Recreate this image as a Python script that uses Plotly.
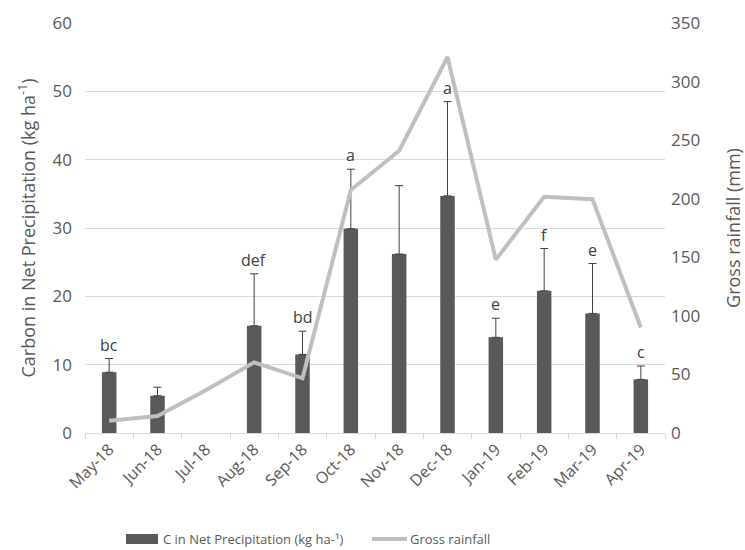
import plotly.graph_objects as go

months = ["May-18", "Jun-18", "Jul-18", "Aug-18", "Sep-18", "Oct-18",
          "Nov-18", "Dec-18", "Jan-19", "Feb-19", "Mar-19", "Apr-19"]
carbon = [8.9, 5.45, None, 15.7, 11.5, 29.9, 26.2, 34.7, 14.0, 20.8, 17.5, 7.85]
carbon_err = [2.0, 1.25, None, 7.6, 3.4, 8.7, 10.0, 13.8, 2.8, 6.2, 7.3, 1.95]
letters = ["bc", "", "", "def", "bd", "a", "", "a", "e", "f", "e", "c"]
rainfall = [10.5, 14.5, 36.5, 60.3, 46.7, 207.4, 241, 321, 148, 201.7, 199.5, 90]

bar_name = "C in Net Precipitation (kg ha-¹)"
line_name = "Gross rainfall"

FONT = "Open Sans"
TXT = "#595959"
BAR = "#595959"
LINE = "#bfbfbf"

fig = go.Figure()
fig.add_trace(go.Bar(
    x=months, y=carbon, name=bar_name,
    marker=dict(color=BAR, line=dict(width=0)),
    width=0.3,
    error_y=dict(type="data", symmetric=False, array=carbon_err,
                 arrayminus=[0] * len(months), color="#404040",
                 thickness=1, width=4),
))
fig.add_trace(go.Scatter(
    x=months, y=rainfall, name=line_name, yaxis="y2",
    mode="lines", line=dict(color=LINE, width=4),
))

# significance letters above the error bars
for m, v, e, t in zip(months, carbon, carbon_err, letters):
    if t:
        fig.add_annotation(x=m, y=v + e, text=t, showarrow=False,
                           yanchor="bottom", yshift=1,
                           font=dict(family=FONT, size=16, color="#404040"))

# legend row beneath the chart
leg_y = -0.2585
fig.add_shape(type="rect", xref="paper", yref="paper",
              x0=0.0707, x1=0.1259, y0=leg_y - 0.012, y1=leg_y + 0.012,
              fillcolor=BAR, line=dict(width=0))
fig.add_annotation(xref="paper", yref="paper", x=0.131, y=leg_y,
                   xanchor="left", yanchor="middle", showarrow=False,
                   text=bar_name, font=dict(family=FONT, size=13, color=TXT))
fig.add_shape(type="line", xref="paper", yref="paper",
              x0=0.4948, x1=0.5552, y0=leg_y, y1=leg_y,
              line=dict(color=LINE, width=4))
fig.add_annotation(xref="paper", yref="paper", x=0.5575, y=leg_y,
                   xanchor="left", yanchor="middle", showarrow=False,
                   text=line_name, font=dict(family=FONT, size=13, color=TXT))

fig.update_layout(
    width=745, height=550,
    margin=dict(l=85, r=80, t=23, b=117),
    plot_bgcolor="white", paper_bgcolor="white",
    font=dict(family=FONT, color=TXT, size=14),
    showlegend=False,
    bargap=0.7,
    xaxis=dict(type="category", tickangle=-45, showgrid=False,
               showline=True, linecolor="#d9d9d9", linewidth=1,
               ticks="outside", tickson="boundaries", ticklen=5,
               tickcolor="#d9d9d9", automargin=False,
               tickfont=dict(size=16, color=TXT)),
    yaxis=dict(range=[0, 60], dtick=10, showgrid=True, gridcolor="#d9d9d9",
               zeroline=False, ticks="", automargin=False,
               ticklabelstandoff=12,
               tickfont=dict(size=17, color=TXT),
               title=dict(text="Carbon in Net Precipitation (kg ha<sup>-1</sup>)",
                          font=dict(size=18, color=TXT), standoff=12)),
    yaxis2=dict(range=[0, 350], dtick=50, overlaying="y", side="right",
                showgrid=False, zeroline=False, ticks="", automargin=False,
                ticklabelstandoff=5,
                tickfont=dict(size=17, color=TXT),
                title=dict(text="Gross rainfall (mm)",
                           font=dict(size=18, color=TXT), standoff=32)),
)

fig.write_html("out.html")
